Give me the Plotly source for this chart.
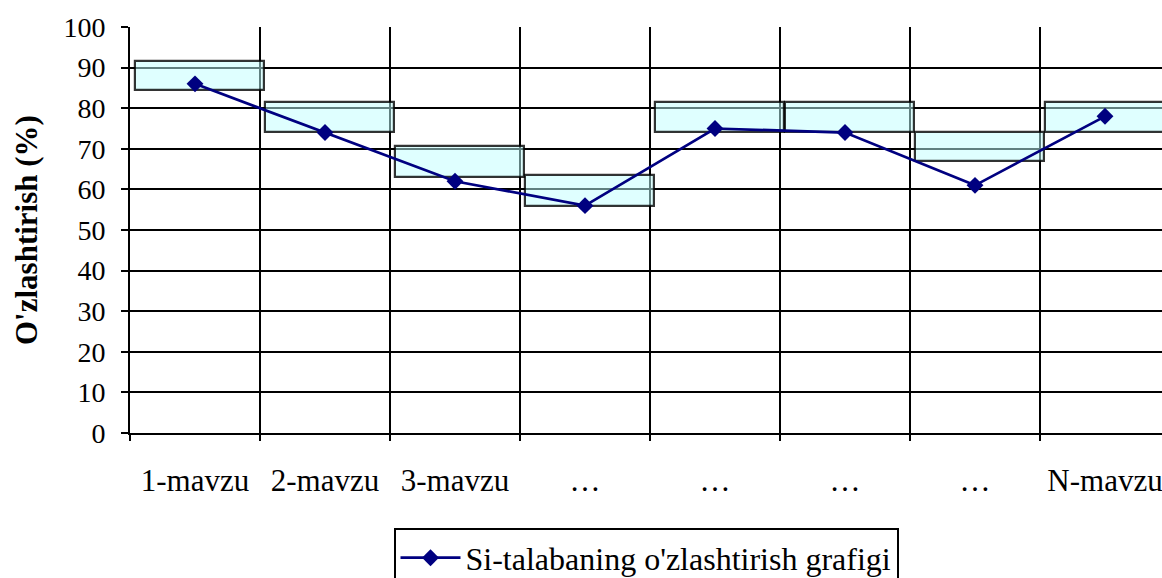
import plotly.graph_objects as go

categories = ["1-mavzu", "2-mavzu", "3-mavzu", "…", "…", "…", "…", "N-mavzu"]
student_values = [86, 74, 62, 56, 75, 74, 61, 78]
band_low = [84.4, 74.2, 63.1, 55.9, 74.2, 74.2, 67.0, 74.2]
band_high = [91.7, 81.6, 70.6, 63.5, 81.5, 81.5, 74.2, 81.5]
y_ticks = [0, 10, 20, 30, 40, 50, 60, 70, 80, 90, 100]
series_name = "Si-talabaning o'zlashtirish grafigi"
y_title = "O'zlashtirish (%)"

xpos = list(range(1, len(categories) + 1))
boundaries = [p - 0.5 for p in xpos]

FONT = "Liberation Serif"

fig = go.Figure()
fig.add_trace(go.Scatter(
    x=xpos, y=student_values, mode="lines+markers", name=series_name,
    line=dict(color="#000080", width=2.7),
    marker=dict(symbol="diamond", size=13, color="#000080"),
))
fig.add_trace(go.Bar(
    x=xpos, base=band_low, y=[h - l for h, l in zip(band_high, band_low)],
    width=0.995, offset=-0.465, showlegend=False, hoverinfo="skip",
    marker=dict(color="rgba(192,255,255,0.5)", line=dict(color="rgba(0,0,0,0.8)", width=2.2)),
))

fig.update_layout(
    width=1162, height=578,
    margin=dict(l=130, r=0, t=27, b=145, autoexpand=False),
    plot_bgcolor="white", paper_bgcolor="white",
    font=dict(family=FONT, color="black"),
    showlegend=True,
    legend=dict(x=0.5, xanchor="center", y=-0.235, yanchor="top",
                orientation="h", bordercolor="black", borderwidth=2,
                font=dict(size=32, family=FONT), itemwidth=60),
    bargap=0,
)
fig.update_xaxes(
    range=[0.5, 0.5 + 1032 / 130],
    tickmode="array", tickvals=xpos, ticktext=categories, ticks="",
    showgrid=False, zeroline=False, automargin=False,
    showline=True, linecolor="black", linewidth=2,
    tickfont=dict(size=31, family=FONT),
    ticklabelstandoff=19, ticklabeloverflow="allow",
    minor=dict(tickmode="array", tickvals=boundaries, showgrid=True,
               gridcolor="black", gridwidth=2, ticks="outside",
               ticklen=6, tickwidth=2, tickcolor="black"),
)
fig.update_yaxes(
    range=[0, 100], tickmode="array", tickvals=y_ticks,
    showgrid=True, gridcolor="black", gridwidth=2, zeroline=False, automargin=False,
    showline=True, linecolor="black", linewidth=2,
    ticks="outside", ticklen=7, tickwidth=2, tickcolor="black",
    tickfont=dict(size=28, family=FONT),
    ticklabelstandoff=10,
)
fig.add_annotation(
    text="<b>" + y_title + "</b>", xref="paper", yref="paper",
    x=-(130 - 26) / 1032, y=0.5, xanchor="center", yanchor="middle",
    textangle=-90, showarrow=False, font=dict(size=31, family=FONT),
)

fig.write_html("out.html", config={"displayModeBar": False},
               post_script="document.body.style.margin='0px';document.body.style.padding='0px';")
